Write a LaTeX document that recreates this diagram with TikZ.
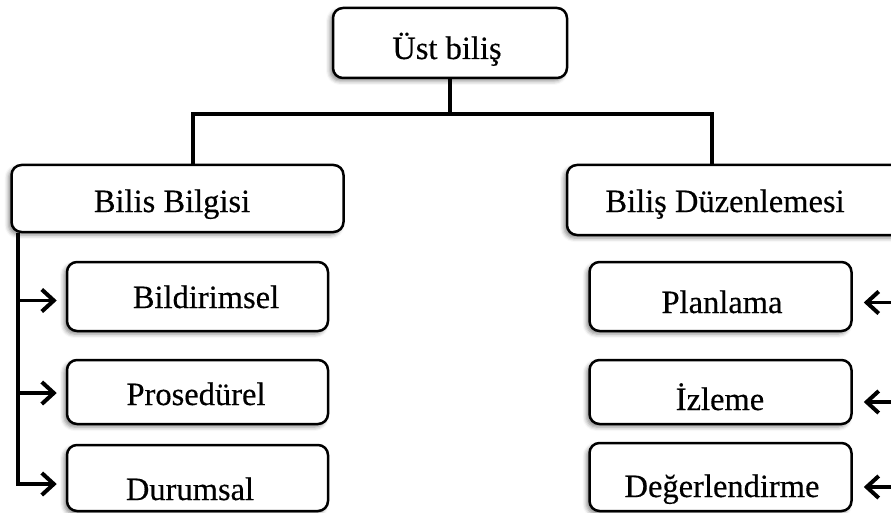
\documentclass[tikz,border=0pt]{standalone}
\usepackage{fontspec}
\setmainfont{Liberation Serif}
% slightly heavier strokes for the box labels
\newfontfamily\labelfont[FakeBold=0.4]{Liberation Serif}
\usetikzlibrary{arrows.meta,shadows.blur}

\begin{document}
\begin{tikzpicture}[x=1pt,y=-1pt,
  box/.style={draw=black, line width=2.5pt, fill=white, rounded corners=10pt,
    inner sep=0pt,
    blur shadow={shadow xshift=-3pt, shadow yshift=-3pt,
      shadow blur radius=4pt, shadow opacity=45}},
  lbl/.style={anchor=base, inner sep=0pt, font=\labelfont\fontsize{32.5}{38}\selectfont},
  conn/.style={line width=3.2pt},
  arr/.style={conn, -{Straight Barb[length=12pt,width=22pt,line width=4pt]}}
]
\useasboundingbox (0,0) rectangle (891,513);
\clip (0,0) rectangle (891,513);

% boxes
\node[box, minimum width=234pt, minimum height=70pt] (top)   at (450,43)    {};
\node[box, minimum width=332pt, minimum height=67pt] (bilgi) at (177.5,198.5) {};
\node[box, minimum width=338pt, minimum height=70pt] (duzen) at (736,200)   {};
\node[box, minimum width=261pt, minimum height=69pt] (bild)  at (197.5,296.5) {};
\node[box, minimum width=261pt, minimum height=64pt] (pros)  at (197.5,392) {};
\node[box, minimum width=261pt, minimum height=66pt] (durum) at (197.5,478) {};
\node[box, minimum width=262pt, minimum height=69pt] (plan)  at (720.5,296.5) {};
\node[box, minimum width=262pt, minimum height=64pt] (izle)  at (720.5,392) {};
\node[box, minimum width=262pt, minimum height=68pt] (deger) at (720.5,477) {};

% labels
\node[lbl] (top-t)   at (447,59)  {Üst biliş};
\node[lbl] (bilgi-t) at (172,212) {Bilis Bilgisi};
\node[lbl] (duzen-t) at (725,212) {Biliş Düzenlemesi};
\node[lbl] (bild-t)  at (206,308) {Bildirimsel};
\node[lbl] (pros-t)  at (196,405) {Prosedürel};
\node[lbl] (durum-t) at (190,500) {Durumsal};
\node[lbl] (plan-t)  at (722,313) {Planlama};
\node[lbl] (izle-t)  at (720,410) {İzleme};
\node[lbl] (deger-t) at (722,497) {Değerlendirme};

% tree connectors
\coordinate (bl) at (193,114);
\coordinate (br) at (712,114);
\draw[conn] (top.south) -- (top.south |- bl);
\draw[conn] (bilgi.north -| bl) |- (br) -- (duzen.north -| br);

% left spine with arrows
\coordinate (ls) at (18,0);
\coordinate (bw) at ([yshift=-4pt]bild.west);
\coordinate (pw) at ([yshift=-1pt]pros.west);
\coordinate (dw) at ([yshift=-6pt]durum.west);
\draw[arr, shorten >=9pt] (bilgi.south -| ls) |- (dw);
\draw[arr, shorten >=9pt] (bw -| ls) -- (bw);
\draw[arr, shorten >=9pt] (pw -| ls) -- (pw);

% right arrows
\coordinate (rs) at (896,0);
\coordinate (pe) at ([yshift=-6pt]plan.east);
\coordinate (ie) at ([yshift=-10pt]izle.east);
\coordinate (de) at ([yshift=-10pt]deger.east);
\draw[arr, shorten >=11pt] (pe -| rs) -- (pe);
\draw[arr, shorten >=11pt] (ie -| rs) -- (ie);
\draw[arr, shorten >=11pt] (de -| rs) -- (de);
\end{tikzpicture}
\end{document}
